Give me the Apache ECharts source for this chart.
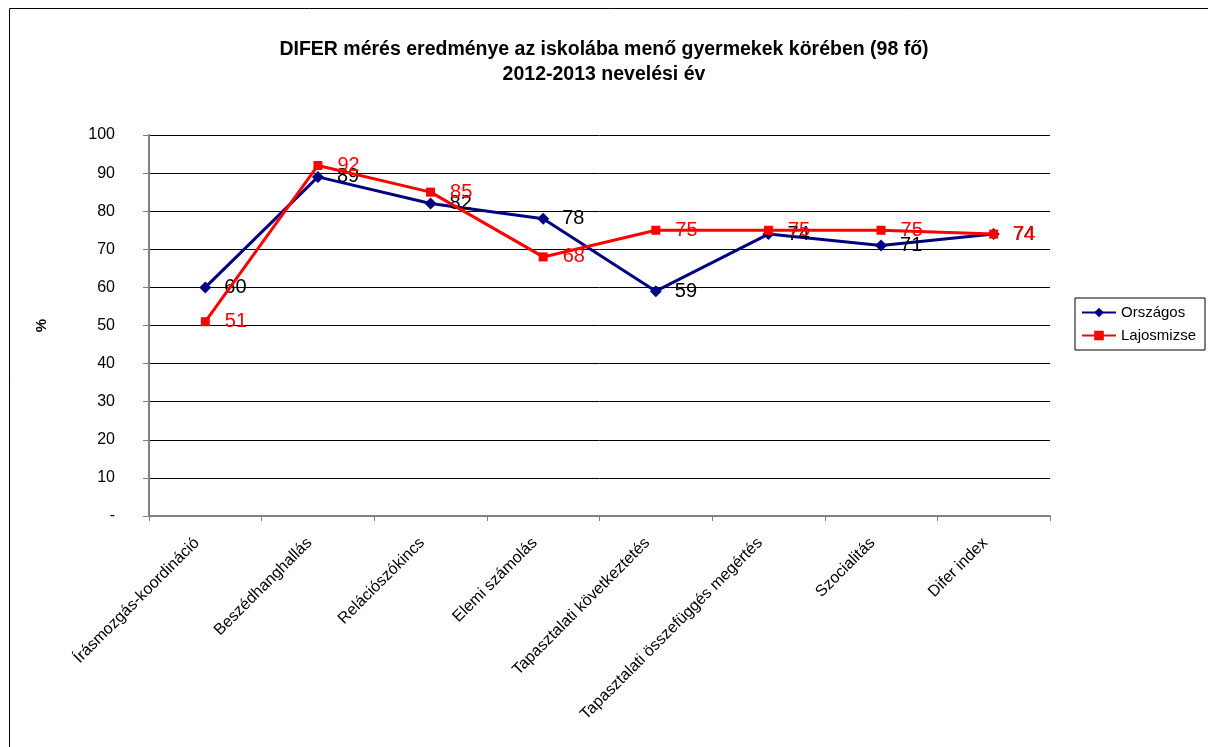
<!DOCTYPE html>
<html>
<head>
<meta charset="utf-8">
<script src="https://cdn.jsdelivr.net/npm/echarts@6/dist/echarts.min.js"></script>
<style>
html,body{margin:0;padding:0;background:#fff;}
#chart{width:1208px;height:747px;}
</style>
</head>
<body>
<div id="chart"></div>
<script>
const categories = ['Írásmozgás-koordináció','Beszédhanghallás','Relációszókincs','Elemi számolás','Tapasztalati következtetés','Tapasztalati összefüggés megértés','Szocialitás','Difer index'];
const orszagos = [60, 89, 82, 78, 59, 74, 71, 74];
const lajosmizse = [51, 92, 85, 68, 75, 75, 75, 74];
const seriesNames = ['Országos', 'Lajosmizse'];
const titleLines = ['DIFER mérés eredménye az iskolába menő gyermekek körében (98 fő)', '2012-2013 nevelési év'];
const yAxisName = '%';

const chart = echarts.init(document.getElementById('chart'));
const font = 'Arial, "Liberation Sans", sans-serif';
chart.setOption({
  animation: false,
  backgroundColor: '#fff',
  textStyle: {fontFamily: font},
  graphic: [{
    type: 'rect', shape: {x: 9.5, y: 8.5, width: 1220, height: 760},
    style: {fill: 'none', stroke: '#000', lineWidth: 1}, silent: true, z: -1
  }],
  title: {
    text: titleLines.join('\n'),
    left: 'center', top: 32,
    textStyle: {fontFamily: font, fontSize: 19.5, fontWeight: 'bold', color: '#000', lineHeight: 25}
  },
  legend: {
    orient: 'vertical', left: 1075, top: 298,
    padding: [7, 9, 7, 6],
    itemGap: 8,
    itemWidth: 34, itemHeight: 12,
    borderColor: '#000', borderWidth: 1, backgroundColor: '#fff',
    textStyle: {fontFamily: font, fontSize: 15, color: '#000'},
    data: seriesNames
  },
  grid: {left: 149, right: 158, top: 135, bottom: 231, containLabel: false},
  xAxis: {
    type: 'category', data: categories, boundaryGap: true,
    axisLine: {lineStyle: {color: '#808080', width: 2}},
    axisTick: {show: true, length: 5, lineStyle: {color: '#808080'}},
    axisLabel: {rotate: 45, margin: 16, interval: 0, padding: [0, 12, 0, 0], fontFamily: font, fontSize: 16, color: '#000'}
  },
  yAxis: {
    type: 'value', min: 0, max: 100, interval: 10,
    name: yAxisName, nameLocation: 'middle', nameRotate: 90, nameGap: 100,
    nameTextStyle: {fontFamily: font, fontSize: 15, fontWeight: 'bold', color: '#000'},
    axisLine: {show: true, lineStyle: {color: '#808080', width: 2}},
    axisTick: {show: true, inside: false, length: 6, lineStyle: {color: '#808080'}},
    axisLabel: {margin: 34, fontFamily: font, fontSize: 16, color: '#000',
      formatter: v => v === 0 ? '-' : String(v)},
    splitLine: {show: true, lineStyle: {color: '#000', width: 1}}
  },
  series: [
    {
      name: seriesNames[0], type: 'line', data: orszagos,
      symbol: 'diamond', symbolSize: 12,
      lineStyle: {color: '#000080', width: 3},
      itemStyle: {color: '#000080'},
      label: {show: true, position: 'right', distance: 13, fontFamily: font, fontSize: 20, color: '#000'},
      z: 2
    },
    {
      name: seriesNames[1], type: 'line', data: lajosmizse,
      symbol: 'rect', symbolSize: 9,
      lineStyle: {color: '#ff0000', width: 3},
      itemStyle: {color: '#ff0000'},
      label: {show: true, position: 'right', distance: 15, fontFamily: font, fontSize: 20, color: '#ff0000'},
      z: 3
    }
  ]
});
</script>
</body>
</html>
